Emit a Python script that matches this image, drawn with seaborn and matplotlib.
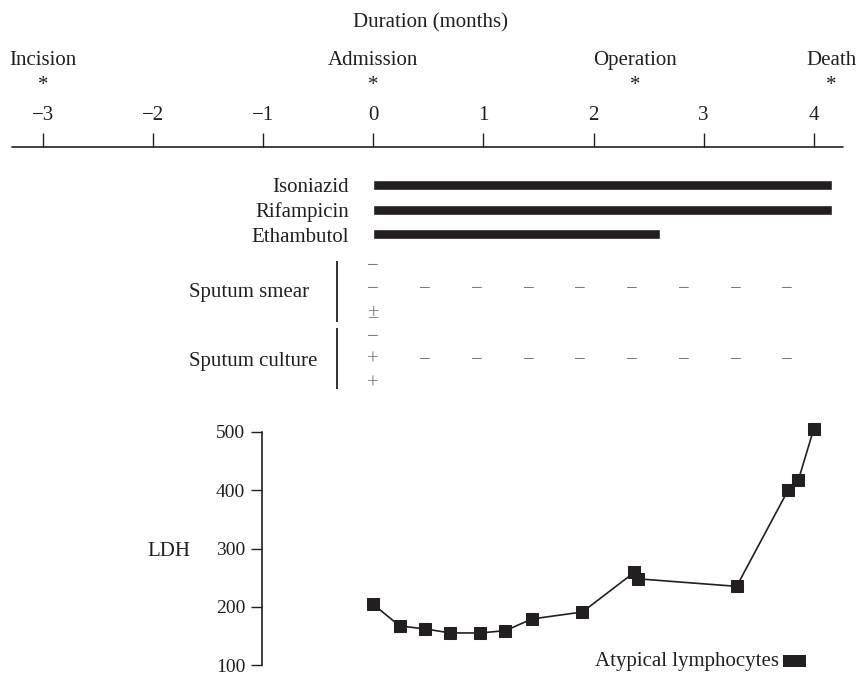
"""
Clinical course timeline: treatment, sputum results and LDH
"""

import matplotlib
matplotlib.use('Agg')
import matplotlib.pyplot as plt
from matplotlib.patches import Rectangle
import seaborn as sns

# ---- data ----
months = [-3, -2, -1, 0, 1, 2, 3, 4]
month_labels = ['\u22123', '\u22122', '\u22121', '0', '1', '2', '3', '4']

events = ['Incision', 'Admission', 'Operation', 'Death']
event_times = [-3, 0, 2.38, 4.16]

drugs = ['Isoniazid', 'Rifampicin', 'Ethambutol']
drug_start = [0, 0, 0]
drug_end = [4.17, 4.17, 2.60]

sputum_times = [0, 0.47, 0.94, 1.41, 1.88, 2.35, 2.82, 3.29, 3.76]
smear_admission = ['\u2212', '\u2212', '\u00b1']
smear_followup = ['\u2212'] * 8
culture_admission = ['\u2212', '+', '+']
culture_followup = ['\u2212'] * 8

ldh_time = [0, 0.24, 0.47, 0.70, 0.97, 1.20, 1.44, 1.90, 2.37, 2.40, 3.30, 3.77, 3.86, 4.00]
ldh_value = [204, 167, 162, 155, 155, 159, 179, 191, 259, 248, 235, 401, 417, 505]
ldh_ticks = [100, 200, 300, 400, 500]

# ---- layout (pixels) ----
W, H = 859, 675
ORIGIN_PX = 373.3     # x pixel of month 0
PX_PER_MONTH = 110.1
INK = '#231f20'
GREY = '#7a7a7a'
FS = 15

sns.set_style('white')
plt.rcParams['font.family'] = ['Liberation Serif', 'DejaVu Serif']


def px_to_month(px):
    return (px - ORIGIN_PX) / PX_PER_MONTH


fig = plt.figure(figsize=(W / 100, H / 100), dpi=100)
ax = fig.add_axes([0, 0, 1, 1])
ax.set_xlim(px_to_month(0), px_to_month(W))
ax.set_ylim(H, 0)
ax.axis('off')

# 1. timeline axis
ax.text(px_to_month(430), 27, 'Duration (months)', ha='center', va='baseline',
        fontsize=FS, color=INK)
ax.plot([px_to_month(12), px_to_month(843)], [147, 147], color=INK, lw=1.2)
ax.vlines(months, 133, 147, color=INK, lw=1.0)
for m, lab in zip(months, month_labels):
    ax.text(m, 119.5, lab, ha='center', va='baseline', fontsize=FS, color=INK)
for t, name in zip(event_times, events):
    ax.text(t, 65, name, ha='center', va='baseline', fontsize=FS, color=INK)
    ax.text(t, 90, '*', ha='center', va='baseline', fontsize=FS, color=INK)

# 2. drug bars
drug_rows = [185, 210, 234]
ax.barh(drug_rows, [e - s for s, e in zip(drug_start, drug_end)], left=drug_start,
        height=10, color=INK)
for y, name in zip(drug_rows, drugs):
    ax.text(px_to_month(349), y + 7.5, name, ha='right', va='baseline',
            fontsize=FS, color=INK)

# 3. sputum results
ax.text(px_to_month(189), 297, 'Sputum smear', ha='left', va='baseline',
        fontsize=FS, color=INK)
ax.text(px_to_month(189), 366, 'Sputum culture', ha='left', va='baseline',
        fontsize=FS, color=INK)
ax.vlines([px_to_month(337.3)] * 2, [261, 328], [322, 389], color=INK, lw=1.3)

smear_rows = [266, 289, 313]
culture_rows = [337, 360, 384]
for y, sym in zip(smear_rows, smear_admission):
    ax.text(sputum_times[0], y + 5, sym, ha='center', va='baseline', fontsize=FS, color=GREY)
for y, sym in zip(culture_rows, culture_admission):
    ax.text(sputum_times[0], y + 5, sym, ha='center', va='baseline', fontsize=FS, color=GREY)
for t, sym in zip(sputum_times[1:], smear_followup):
    ax.text(t, smear_rows[1] + 5, sym, ha='center', va='baseline', fontsize=FS, color=GREY)
for t, sym in zip(sputum_times[1:], culture_followup):
    ax.text(t, culture_rows[1] + 5, sym, ha='center', va='baseline', fontsize=FS, color=GREY)

# 4. LDH curve (shifted a few px up so the bottom tick label fits)
top_px, bot_px = 432, 665
ax2 = fig.add_axes([0, (H - bot_px) / H, 1, (bot_px - top_px) / H])
ax2.patch.set_alpha(0)
ax2.set_xlim(px_to_month(0), px_to_month(W))
ax2.set_ylim(100, 500)
sns.lineplot(x=ldh_time, y=ldh_value, ax=ax2, color=INK, lw=1.2, marker='s',
             markersize=8, markeredgecolor=INK, markerfacecolor=INK, clip_on=False)
for s in ['top', 'right', 'bottom']:
    ax2.spines[s].set_visible(False)
ax2.spines['left'].set_position(('data', px_to_month(262)))
ax2.spines['left'].set_color(INK)
ax2.spines['left'].set_linewidth(1.2)
ax2.set_xticks([])
ax2.set_yticks(ldh_ticks)
ax2.tick_params(axis='y', left=True, length=8, width=1.0, color=INK,
                labelsize=14, labelcolor=INK, pad=4)
ax2.set_ylabel('')
ax.text(px_to_month(169), 556, 'LDH', ha='center', va='baseline', fontsize=FS, color=INK)

# atypical lymphocytes note
ax.text(px_to_month(779), 666, 'Atypical lymphocytes', ha='right', va='baseline',
        fontsize=FS, color=INK)
ax.add_patch(Rectangle((px_to_month(783), 655), 23 / PX_PER_MONTH, 12,
                       color=INK, lw=0))

plt.savefig('out.png', dpi=100)
plt.close()
